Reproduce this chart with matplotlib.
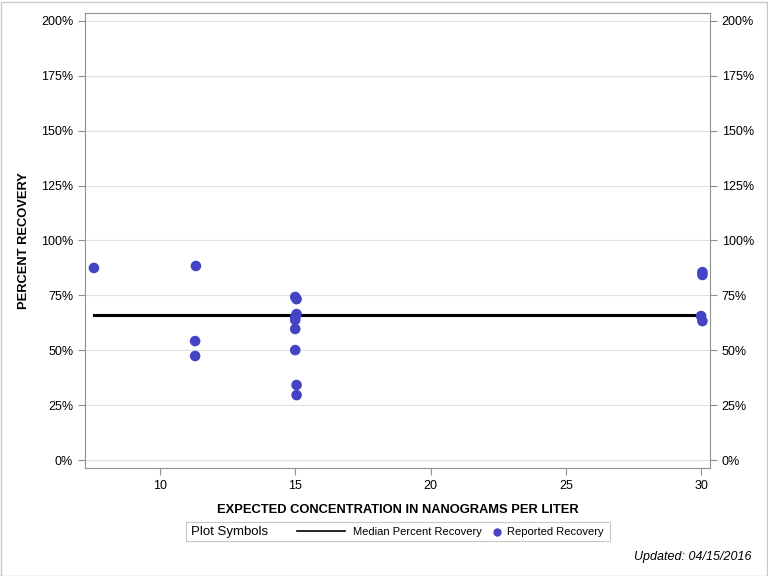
import matplotlib
matplotlib.use("Agg")
import matplotlib.pyplot as plt
from matplotlib.lines import Line2D
from matplotlib.ticker import FuncFormatter, FixedLocator
from matplotlib.patches import Rectangle

plt.rcParams['font.family'] = ['Liberation Sans', 'DejaVu Sans']

# Data
expected_conc = [7.56, 11.33, 11.3, 11.3, 15.0, 15.05, 15.05, 15.0, 15.0, 15.0, 15.0, 15.05, 15.05,
                 30.05, 30.05, 30.0, 30.05]
percent_recovery = [87.5, 88.4, 54.2, 47.4, 74.3, 73.3, 66.5, 65.1, 63.8, 59.7, 50.1, 34.2, 29.6,
                    85.6, 84.3, 65.6, 63.3]
median_x = [7.56, 30.1]
median_recovery = [66.1, 66.1]
x_ticks = [10, 15, 20, 25, 30]
y_ticks = [0, 25, 50, 75, 100, 125, 150, 175, 200]

fig = plt.figure(figsize=(7.68, 5.76), dpi=100)
ax = fig.add_axes([85/768, 1-468/576, (710-85)/768, (468-13)/576])

ax.plot(median_x, median_recovery, color='black', lw=2.2, zorder=3)
ax.scatter(expected_conc, percent_recovery, s=58, color='#4343C3', edgecolors='none', zorder=4)

ax.set_xlim(7.23, 30.33)
ax.set_ylim(-3.6, 203.6)
ax.xaxis.set_major_locator(FixedLocator(x_ticks))
ax.yaxis.set_major_locator(FixedLocator(y_ticks))
ax.yaxis.set_major_formatter(FuncFormatter(lambda v, p: f"{int(v)}%"))
ax.grid(axis='y', color='#e0e0e0', lw=0.8)
ax.set_axisbelow(True)
for s in ax.spines.values():
    s.set_color('#909090')
ax.tick_params(axis='both', direction='out', color='#909090', labelsize=9, length=5)
ax.tick_params(axis='y', which='both', right=True, labelright=True)

ax.set_xlabel('EXPECTED CONCENTRATION IN NANOGRAMS PER LITER', fontsize=9.3, fontweight='bold', labelpad=9)
ax.set_ylabel('PERCENT RECOVERY', fontsize=9.3, fontweight='bold', labelpad=8)

# Legend box
lx0, ly0, lx1, ly1 = 186, 522, 610, 541
fig.patches.append(Rectangle((lx0/768, 1-ly1/576), (lx1-lx0)/768, (ly1-ly0)/576,
                             transform=fig.transFigure, fill=False, edgecolor='#c8c8c8', lw=0.8))
fig.text(191/768, 1-532/576, 'Plot Symbols', fontsize=9.5, va='center', ha='left')
fig.add_artist(Line2D([297/768, 345/768], [1-531/576, 1-531/576], color='black', lw=1.2, transform=fig.transFigure))
fig.text(353/768, 1-532/576, 'Median Percent Recovery', fontsize=8, va='center', ha='left')
fig.add_artist(Line2D([497/768], [1-532/576], marker='o', markersize=5, color='#4343C3', lw=0,
                      transform=fig.transFigure))
fig.text(507/768, 1-532/576, 'Reported Recovery', fontsize=8, va='center', ha='left')

fig.text(752/768, 1-557/576, 'Updated: 04/15/2016', fontsize=9, style='italic', ha='right', va='center')

# Outer frame
fig.patches.append(Rectangle((0.5/768, 0.5/576), 766/768, 574/576, transform=fig.transFigure,
                             fill=False, edgecolor='#c8c8c8', lw=1))

fig.savefig('out.png', dpi=100)
